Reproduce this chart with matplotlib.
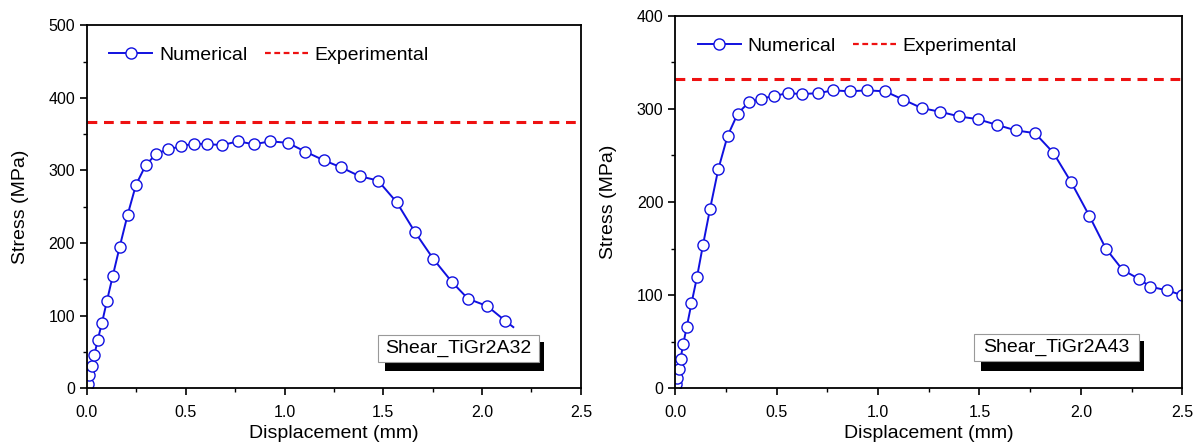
"""
Shear tests TiGr2: numerical stress-displacement vs. experimental peak
"""
import matplotlib.pyplot as plt
from matplotlib.lines import Line2D
from matplotlib.patches import Rectangle
from matplotlib.ticker import MultipleLocator

plt.rcParams['font.family'] = ['Liberation Sans', 'DejaVu Sans']

# Shear_TiGr2A32 (linke Grafik)
disp_a32 = [0.0, 0.004, 0.012, 0.023, 0.037, 0.054, 0.076, 0.101, 0.130, 0.165, 0.206,
            0.248, 0.297, 0.351, 0.410, 0.474, 0.540, 0.610, 0.685, 0.765, 0.844,
            0.928, 1.016, 1.104, 1.198, 1.288, 1.380, 1.473, 1.568, 1.660, 1.753,
            1.848, 1.929, 2.026, 2.116, 2.158]
stress_a32 = [0, 6, 18, 30, 45, 66, 90, 120, 154, 194, 239,
              280, 307, 323, 329, 333, 337, 336, 335, 340, 336,
              340, 338, 326, 314, 304, 292, 286, 256, 215, 178,
              146, 123, 113, 93, 84]
exp_a32 = 367

# Shear_TiGr2A43 (rechte Grafik)
disp_a43 = [0.0, 0.004, 0.009, 0.018, 0.026, 0.039, 0.057, 0.080, 0.107, 0.137, 0.172,
            0.212, 0.258, 0.308, 0.362, 0.422, 0.487, 0.554, 0.625, 0.702, 0.780,
            0.861, 0.945, 1.034, 1.125, 1.215, 1.306, 1.400, 1.492, 1.585, 1.679,
            1.774, 1.864, 1.953, 2.042, 2.123, 2.206, 2.289, 2.342, 2.425, 2.498]
stress_a43 = [0, 4, 11, 20, 31, 47, 66, 91, 119, 154, 193,
              235, 271, 295, 307, 311, 314, 317, 316, 317, 320,
              319, 320, 319, 310, 301, 297, 292, 289, 283, 277,
              274, 253, 221, 185, 150, 127, 117, 109, 105, 100]
exp_a43 = 332

blue = '#1010e0'
red = '#ee1111'


def panel(ax, x, y, exp, ymax, label, markevery):
    num, = ax.plot(x, y, '-o', color=blue, lw=1.4, ms=8, mfc='white', mec=blue, mew=1.0,
                   markevery=markevery, label='Numerical')
    ax.axhline(exp, color=red, lw=2.2, ls=(0, (3.2, 2.2)))
    ax.set_xlim(0, 2.5)
    ax.set_ylim(0, ymax)
    ax.xaxis.set_major_locator(MultipleLocator(0.5))
    ax.xaxis.set_minor_locator(MultipleLocator(0.25))
    ax.yaxis.set_major_locator(MultipleLocator(100))
    ax.yaxis.set_minor_locator(MultipleLocator(50))
    ax.xaxis.set_major_formatter(plt.FormatStrFormatter('%.1f'))
    ax.tick_params(which='major', direction='out', length=5, width=1.2, labelsize=11.5)
    ax.tick_params(axis='x', which='major', pad=7)
    ax.tick_params(which='minor', direction='out', length=3, width=1.0)
    for s in ax.spines.values():
        s.set_linewidth(1.3)
    ax.set_xlabel('Displacement (mm)', fontsize=14, labelpad=4)
    ax.set_ylabel('Stress (MPa)', fontsize=14, labelpad=14)
    # Legende: Experimental-Strich dünner als im Diagramm
    exp_handle = Line2D([], [], color=red, lw=1.6, ls=(0, (2.6, 1.6)))
    ax.legend([num, exp_handle], ['Numerical', 'Experimental'],
              loc='upper left', ncol=2, frameon=False, fontsize=14,
              handlelength=2.2, columnspacing=0.9, handletextpad=0.35,
              borderaxespad=0.5, bbox_to_anchor=(0.01, 0.99))
    # Beschriftungsbox mit Schatten
    ax.add_patch(Rectangle((0.603, 0.047), 0.322, 0.080, transform=ax.transAxes,
                           facecolor='black', edgecolor='none', zorder=5))
    ax.add_patch(Rectangle((0.589, 0.072), 0.326, 0.074, transform=ax.transAxes,
                           facecolor='white', edgecolor='#999999', lw=0.8, zorder=6))
    ax.text(0.752, 0.108, label, transform=ax.transAxes, fontsize=14,
            ha='center', va='center', zorder=7)


fig = plt.figure(figsize=(11.93, 4.43), dpi=100)
ax1 = fig.add_axes([0.0729, 0.124, 0.414, 0.819])
ax2 = fig.add_axes([0.566, 0.124, 0.425, 0.840])

panel(ax1, disp_a32, stress_a32, exp_a32, 500, 'Shear_TiGr2A32', slice(0, -1))
panel(ax2, disp_a43, stress_a43, exp_a43, 400, 'Shear_TiGr2A43', None)

fig.savefig('out.png', dpi=100)
